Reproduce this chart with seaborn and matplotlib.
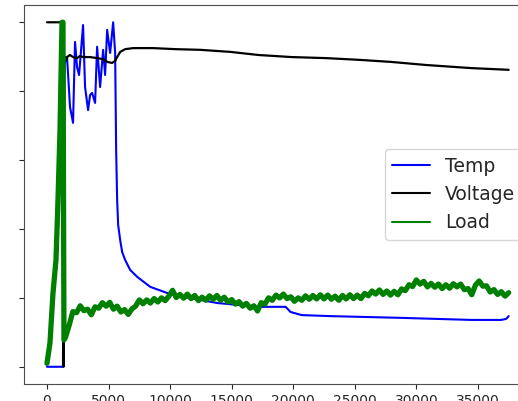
import numpy as np
import pandas as pd
import matplotlib
matplotlib.use("Agg")
import matplotlib.pyplot as plt
import seaborn as sns

# ---- data (normalised) ----
temp_x = [0, 1300, 1380, 1629, 1873, 2117, 2280, 2443, 2606, 2932, 3094, 3339, 3502,
          3664, 3909, 4072, 4316, 4560, 4723, 4886, 5130, 5375, 5537, 5619, 5700, 5782,
          5945, 6107, 6352, 6759, 7329, 8388, 9772, 11075, 13844, 17182, 19381, 19788,
          20684, 23046, 28746, 34446, 36889, 37296, 37500]
temp_y = [0.0, 0.0, 0.90, 0.899, 0.754, 0.708, 0.943, 0.870, 0.847, 0.992, 0.812, 0.745,
          0.789, 0.795, 0.766, 0.929, 0.812, 0.920, 0.847, 0.978, 0.911, 1.0, 0.911,
          0.629, 0.484, 0.412, 0.368, 0.333, 0.310, 0.281, 0.261, 0.232, 0.214, 0.203,
          0.185, 0.174, 0.174, 0.159, 0.150, 0.147, 0.142, 0.136, 0.136, 0.139, 0.147]

volt_x = [0, 1300, 1350, 1420, 1629, 1873, 2117, 2443, 2687, 2932, 3502, 4072, 4560,
          4886, 5293, 5537, 5700, 5945, 6352, 7003, 8632, 10423, 12459, 14902, 17182,
          19870, 22638, 25326, 27932, 30782, 34446, 37500]
volt_y = [1.0, 1.0, 0.0, 0.88, 0.899, 0.905, 0.899, 0.896, 0.902, 0.899, 0.899, 0.896,
          0.893, 0.885, 0.882, 0.888, 0.899, 0.914, 0.922, 0.925, 0.925, 0.922, 0.920,
          0.914, 0.905, 0.899, 0.896, 0.891, 0.885, 0.876, 0.867, 0.862]

load_x = [0, 244, 489, 733, 896, 1059, 1221, 1300, 1380,
          1500, 1800, 2100, 2400, 2700, 3000, 3300, 3600, 3900, 4200, 4500, 4800,
          5100, 5400, 5700, 6000, 6300, 6600, 6900, 7200, 7500, 7800, 8100, 8400,
          8700, 9000, 9300, 9600, 9900, 10200, 10500, 10800, 11100, 11400, 11700, 12000,
          12300, 12600, 12900, 13200, 13500, 13800, 14100, 14400, 14700, 15000, 15300, 15600,
          15900, 16200, 16500, 16800, 17100, 17400, 17700, 18000, 18300, 18600, 18900, 19200,
          19500, 19800, 20100, 20400, 20700, 21000, 21300, 21600, 21900, 22200, 22500, 22800,
          23100, 23400, 23700, 24000, 24300, 24600, 24900, 25200, 25500, 25800, 26100, 26400,
          26700, 27000, 27300, 27600, 27900, 28200, 28500, 28800, 29100, 29400, 29700, 30000,
          30300, 30600, 30900, 31200, 31500, 31800, 32100, 32400, 32700, 33000, 33300, 33600,
          33900, 34200, 34500, 34800, 35100, 35400, 35700, 36000, 36300, 36600, 36900, 37200,
          37500]
load_y = [0.01, 0.069, 0.214, 0.310, 0.484, 0.687, 1.0, 1.0, 0.078,
          0.085, 0.120, 0.160, 0.157, 0.177, 0.163, 0.167, 0.151, 0.174, 0.170, 0.186, 0.176,
          0.187, 0.167, 0.176, 0.159, 0.166, 0.152, 0.168, 0.176, 0.194, 0.183, 0.194, 0.185,
          0.198, 0.188, 0.200, 0.192, 0.205, 0.222, 0.201, 0.210, 0.199, 0.211, 0.198, 0.207,
          0.192, 0.202, 0.193, 0.206, 0.196, 0.207, 0.193, 0.202, 0.188, 0.195, 0.182, 0.189,
          0.176, 0.184, 0.170, 0.177, 0.162, 0.186, 0.182, 0.200, 0.193, 0.208, 0.200, 0.211,
          0.198, 0.203, 0.190, 0.200, 0.193, 0.206, 0.196, 0.207, 0.197, 0.209, 0.197, 0.208,
          0.196, 0.205, 0.193, 0.207, 0.197, 0.209, 0.198, 0.208, 0.198, 0.213, 0.206, 0.220,
          0.211, 0.223, 0.210, 0.220, 0.208, 0.219, 0.209, 0.226, 0.221, 0.238, 0.233, 0.252,
          0.240, 0.248, 0.232, 0.242, 0.231, 0.240, 0.227, 0.238, 0.228, 0.241, 0.232, 0.240,
          0.224, 0.227, 0.209, 0.237, 0.249, 0.234, 0.235, 0.217, 0.224, 0.210, 0.218, 0.205,
          0.215]

series_names = ["Temp", "Voltage", "Load"]
series_colors = ["blue", "black", "green"]

# ---- plot ----
sns.set_style("ticks")
plt.rcParams['font.family'] = ['DejaVu Sans']

fig = plt.figure(figsize=(5.18, 4.01), dpi=100)
ax = fig.add_axes([0.0461, 0.0424, 0.9805, 0.945])

sns.lineplot(x=temp_x, y=temp_y, ax=ax, color=series_colors[0], lw=1.5,
             label=series_names[0], estimator=None, sort=False)
sns.lineplot(x=volt_x, y=volt_y, ax=ax, color=series_colors[1], lw=1.6,
             label=series_names[1], estimator=None, sort=False)
sns.lineplot(x=load_x, y=load_y, ax=ax, color=series_colors[2], lw=3.8,
             label=series_names[2], estimator=None, sort=False)

ax.tick_params(axis='x', labelsize=10)
ax.tick_params(axis='y', labelleft=False)
for s in ax.spines.values():
    s.set_color("0.3")

leg = ax.legend(loc="center right", fontsize=13.5, frameon=True)
for h in leg.get_lines():
    h.set_linewidth(1.5)

fig.savefig("out.png", dpi=100)
